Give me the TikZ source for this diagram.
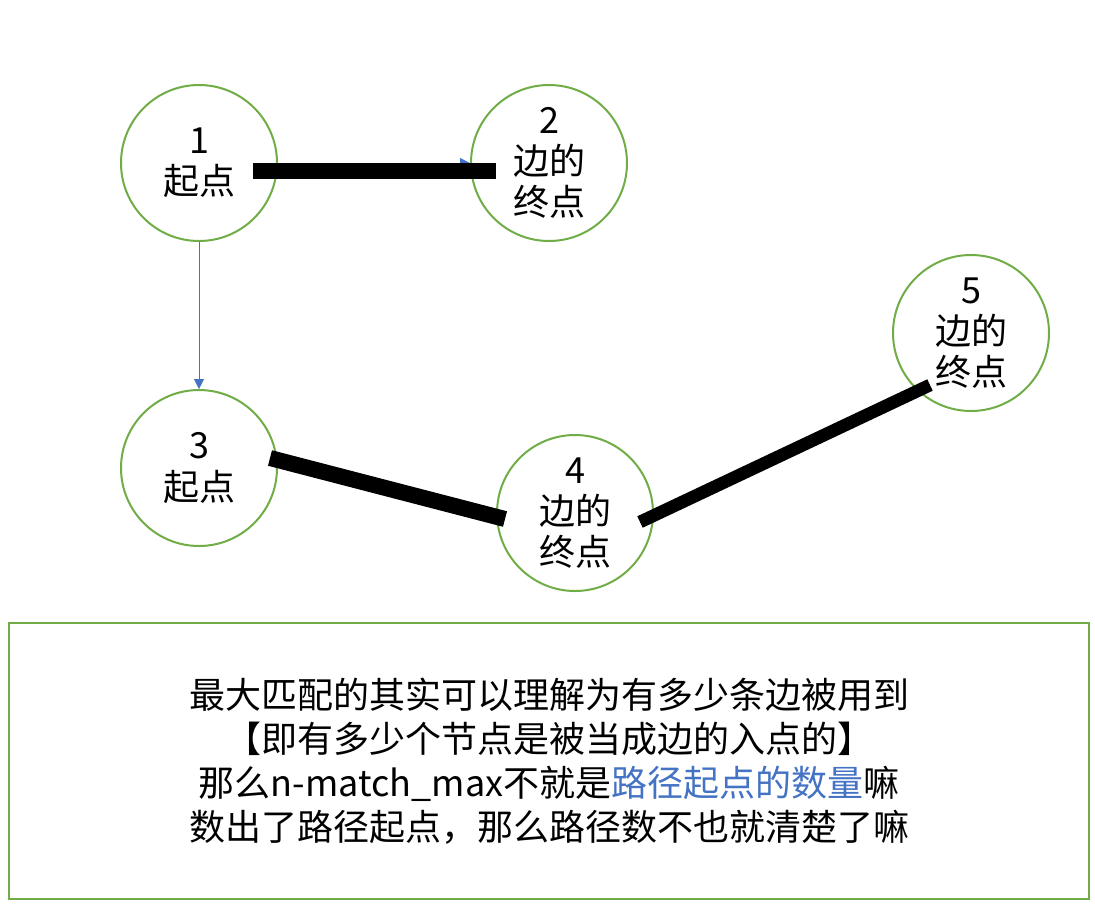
\documentclass[tikz,border=0pt]{standalone}
\usepackage{fontspec}
\setmainfont{Noto Sans CJK SC}
\usepackage{xcolor}
\usepackage{tikz}
\usetikzlibrary{arrows.meta,positioning}
\definecolor{vgreen}{HTML}{70AD47}
\definecolor{eblue}{HTML}{4472C4}

\begin{document}
\begin{tikzpicture}[x=0.75pt, y=-0.75pt, >={Triangle[length=7.5pt,width=7.5pt]},
  font=\fontsize{27}{31}\selectfont]

\tikzstyle{vertex}=[circle,draw=vgreen,line width=1.5pt,minimum size=117pt,inner sep=0pt,align=center,fill=white]
\tikzstyle{matched}=[draw=black,line width=12pt]
\tikzstyle{plain}=[->,draw=eblue,fill=eblue,line width=0.75pt]
\tikzstyle{notebox}=[draw=vgreen,line width=1.5pt,minimum width=810pt,minimum height=207pt,align=center,
  font=\fontsize{27}{33}\selectfont]

\useasboundingbox (0,0) rectangle (1095,904);

\node[vertex] (V1) at (199,163) {1\\起点};
\node[vertex] (V2) at (549,163) {2\\边的\\终点};
\node[vertex] (V3) at (199,468) {3\\起点};
\node[vertex] (V4) at (575,513) {4\\边的\\终点};
\node[vertex] (V5) at (971,333) {5\\边的\\终点};

\node[notebox] (Note) at (549,761) {最大匹配的其实可以理解为有多少条边被用到\\
【即有多少个节点是被当成边的入点的】\\
那么n-match\_max不就是\textcolor{eblue}{路径起点的数量}嘛\\
数出了路径起点，那么路径数不也就清楚了嘛};

% thin arcs of the graph
\path
(V1) edge[plain] (V2)
(V1) edge[plain] (V3);

% edges taken by the matching
\draw[matched] ([shift={(54,8)}]V1.center) -- ([shift={(-53,8)}]V2.center);
\draw[matched] ([shift={(71,-10)}]V3.center) -- ([shift={(-70,6)}]V4.center);
\draw[matched,line width=9.5pt] ([shift={(65,9)}]V4.center) -- ([shift={(-41,52)}]V5.center);

\end{tikzpicture}
\end{document}
